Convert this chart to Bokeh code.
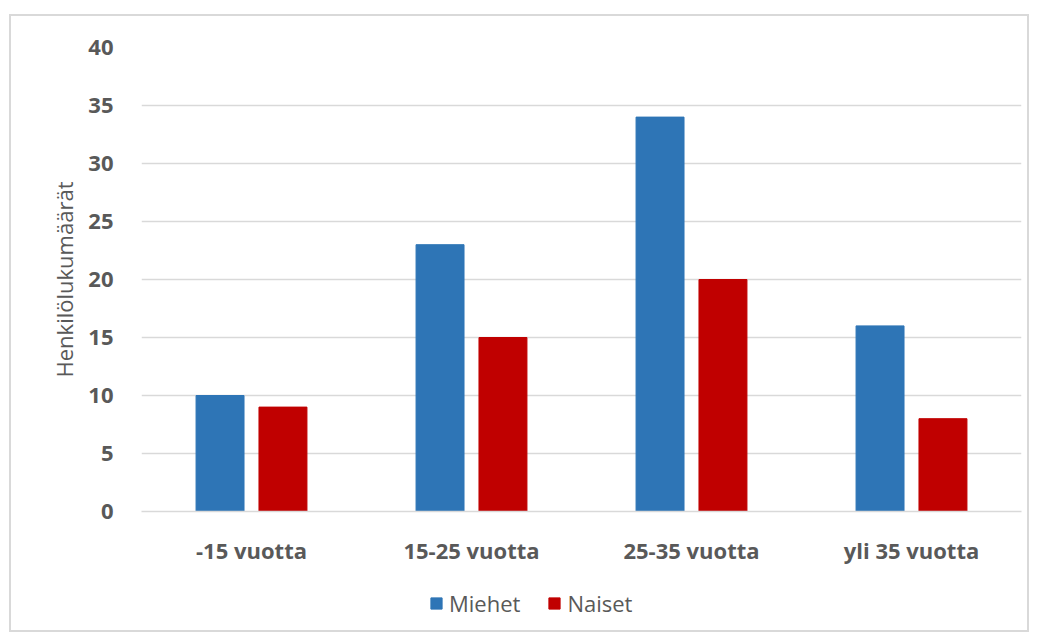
from bokeh.plotting import figure
from bokeh.models import ColumnDataSource, FactorRange, Range1d
from bokeh.transform import dodge
from bokeh.layouts import column
from bokeh.embed import file_html
from bokeh.resources import INLINE

categories = ["-15 vuotta", "15-25 vuotta", "25-35 vuotta", "yli 35 vuotta"]
miehet = [10, 23, 34, 16]
naiset = [9, 15, 20, 8]
y_ticks = [0, 5, 10, 15, 20, 25, 30, 35, 40]
series_names = ["Miehet", "Naiset"]
series_colors = ["#2E75B6", "#C00000"]

src = ColumnDataSource(dict(cat=categories, miehet=miehet, naiset=naiset))

p = figure(width=1016, height=551, output_backend="svg", toolbar_location=None,
           x_range=FactorRange(*categories), y_range=Range1d(0, 40),
           min_border_left=130, min_border_right=6, min_border_top=31, min_border_bottom=0)

p.vbar(x=dodge("cat", -0.143, range=p.x_range), top="miehet", width=0.218, source=src,
       fill_color=series_colors[0], line_color=series_colors[0])
p.vbar(x=dodge("cat", 0.143, range=p.x_range), top="naiset", width=0.218, source=src,
       fill_color=series_colors[1], line_color=series_colors[1])

p.outline_line_color = None
p.xgrid.grid_line_color = None
p.ygrid.grid_line_color = "#d9d9d9"
p.ygrid.grid_line_width = 1.5
p.yaxis.ticker = y_ticks
p.yaxis.axis_line_color = None
p.yaxis.major_tick_line_color = None
p.yaxis.minor_tick_line_color = None
p.xaxis.major_tick_line_color = None
p.xaxis.axis_line_color = "#d9d9d9"
p.xaxis.axis_line_width = 1.5

for ax in (p.xaxis[0], p.yaxis[0]):
    ax.major_label_text_font = "Open Sans"
    ax.major_label_text_font_style = "bold"
    ax.major_label_text_font_size = "22px"
    ax.major_label_text_color = "#595959"
p.yaxis.major_label_standoff = 22
p.xaxis.major_label_standoff = 17

p.yaxis.axis_label = "Henkilölukumäärät"
p.yaxis.axis_label_text_font = "Open Sans"
p.yaxis.axis_label_text_font_style = "normal"
p.yaxis.axis_label_text_font_size = "22px"
p.yaxis.axis_label_text_color = "#595959"
p.yaxis.axis_label_standoff = 6

# legend strip: same series, drawn outside its visible range so only the legend shows
p2 = figure(width=1016, height=63, output_backend="svg", toolbar_location=None,
            x_range=FactorRange(*categories), y_range=Range1d(1000, 1001),
            x_axis_location=None, y_axis_location=None, min_border=0)
p2.outline_line_color = None
p2.grid.visible = False
for name, col, key in zip(series_names, series_colors, ["miehet", "naiset"]):
    p2.vbar(x="cat", top=key, width=0.2, source=src,
            fill_color=col, line_color=col, legend_label=name)
leg = p2.legend[0]
leg.orientation = "horizontal"
leg.location = (288, 12)
leg.border_line_color = None
leg.background_fill_alpha = 0
leg.label_text_font = "Open Sans"
leg.label_text_font_size = "22px"
leg.label_text_color = "#595959"
leg.glyph_width = 14
leg.glyph_height = 14
leg.label_standoff = 6
leg.spacing = 27
leg.margin = 0
leg.padding = 4

layout = column(p, p2, spacing=0,
                styles={"border": "2px solid #d9d9d9", "margin-top": "14px", "margin-left": "9px"})
open("out.html", "w").write(file_html(layout, INLINE))
